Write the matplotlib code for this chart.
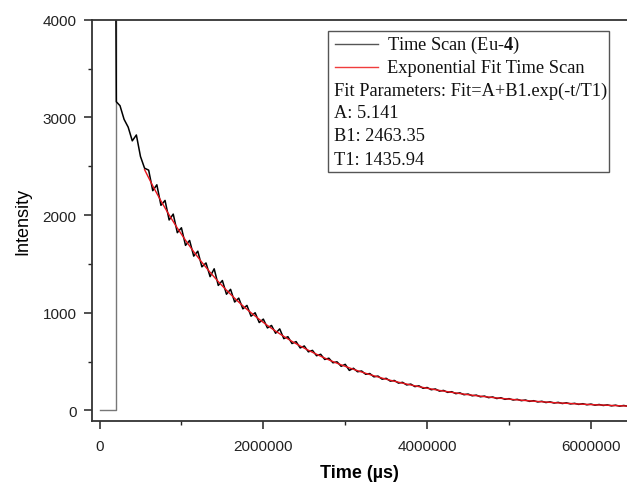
import matplotlib
matplotlib.use("Agg")
import matplotlib.pyplot as plt
from matplotlib.patches import Rectangle
from matplotlib.ticker import MultipleLocator

plt.rcParams['mathtext.fontset'] = 'custom'
plt.rcParams['mathtext.rm'] = 'Liberation Serif'
plt.rcParams['mathtext.bf'] = 'Liberation Serif:bold'

# time scan (us) and intensity
scan_t = [0, 198000, 198000, 205000,
          250000, 300000, 350000, 400000, 450000, 500000, 550000, 600000,
          650000, 700000, 750000, 800000, 850000, 900000, 950000, 1000000,
          1050000, 1100000, 1150000, 1200000, 1250000, 1300000, 1350000, 1400000,
          1450000, 1500000, 1550000, 1600000, 1650000, 1700000, 1750000, 1800000,
          1850000, 1900000, 1950000, 2000000, 2050000, 2100000, 2150000, 2200000,
          2250000, 2300000, 2350000, 2400000, 2450000, 2500000, 2550000, 2600000,
          2650000, 2700000, 2750000, 2800000, 2850000, 2900000, 2950000, 3000000,
          3050000, 3100000, 3150000, 3200000, 3250000, 3300000, 3350000, 3400000,
          3450000, 3500000, 3550000, 3600000, 3650000, 3700000, 3750000, 3800000,
          3850000, 3900000, 3950000, 4000000, 4050000, 4100000, 4150000, 4200000,
          4250000, 4300000, 4350000, 4400000, 4450000, 4500000, 4550000, 4600000,
          4650000, 4700000, 4750000, 4800000, 4850000, 4900000, 4950000, 5000000,
          5050000, 5100000, 5150000, 5200000, 5250000, 5300000, 5350000, 5400000,
          5450000, 5500000, 5550000, 5600000, 5650000, 5700000, 5750000, 5800000,
          5850000, 5900000, 5950000, 6000000, 6050000, 6100000, 6150000, 6200000,
          6250000, 6300000, 6350000, 6400000, 6450000]
scan_i = [0, 0, 4500, 3160,
          3120, 2980, 2900, 2760, 2820, 2600, 2480, 2460,
          2250, 2310, 2100, 2150, 1950, 2010, 1820, 1870,
          1690, 1740, 1580, 1630, 1470, 1510, 1370, 1450,
          1280, 1330, 1190, 1240, 1110, 1150, 1040, 1075,
          965, 1000, 900, 935, 845, 870, 790, 835,
          735, 755, 685, 705, 640, 660, 600, 615,
          560, 575, 522, 535, 488, 498, 452, 472,
          410, 432, 396, 404, 370, 378, 344, 352,
          320, 329, 300, 307, 280, 288, 261, 270,
          244, 252, 227, 235, 212, 220, 198, 205,
          185, 192, 172, 180, 161, 168, 150, 157,
          140, 147, 131, 138, 122, 130, 114, 121,
          107, 114, 100, 107, 93, 100, 87, 94,
          81, 88, 76, 83, 71, 78, 67, 73,
          62, 69, 58, 65, 54, 61, 51, 57,
          47, 54, 44, 51, 43]

# exponential fit curve
fit_t = [550000, 650000, 750000, 850000, 950000, 1050000, 1150000, 1250000,
         1350000, 1450000, 1550000, 1650000, 1750000, 1850000, 1950000, 2050000,
         2150000, 2250000, 2350000, 2450000, 2550000, 2650000, 2750000, 2850000,
         2950000, 3050000, 3150000, 3250000, 3350000, 3450000, 3550000, 3650000,
         3750000, 3850000, 3950000, 4050000, 4150000, 4250000, 4350000, 4450000,
         4550000, 4650000, 4750000, 4850000, 4950000, 5050000, 5150000, 5250000,
         5350000, 5450000, 5550000, 5650000, 5750000, 5850000, 5950000, 6050000,
         6150000, 6250000, 6350000, 6450000]
fit_i = [2465, 2299, 2145, 2001, 1867, 1742, 1625, 1516,
         1414, 1319, 1231, 1148, 1071, 1000, 933, 870,
         812, 758, 707, 660, 616, 575, 536, 500,
         467, 436, 407, 380, 355, 331, 309, 289,
         270, 252, 235, 220, 205, 192, 179, 167,
         156, 146, 137, 128, 120, 112, 105, 98,
         92, 86, 80, 75, 71, 66, 62, 58,
         55, 51, 48, 45]

x_ticks = [0, 2000000, 4000000, 6000000]
x_labels = ['0', '2000000', '4000000', '6000000']
y_ticks = [0, 1000, 2000, 3000, 4000]

legend_rows = ['Fit Parameters: Fit=A+B1.exp(-t/T1)', 'A: 5.141', 'B1: 2463.35', 'T1: 1435.94']

fig = plt.figure(figsize=(6.27, 4.85), dpi=100)
ax = fig.add_axes([0.1463, 0.1305, 0.8537, 0.8268])

# flat baseline + pulse in grey, decay in black
ax.plot(scan_t[:3], scan_i[:3], color='#777777', lw=1.0)
ax.plot(scan_t[2:], scan_i[2:], color='black', lw=1.1)
ax.plot(fit_t, fit_i, color='#e8141c', lw=1.0)

ax.set_xlim(-95000, 6440000)
ax.set_ylim(-105, 4000)
ax.set_xticks(x_ticks)
ax.set_xticklabels(x_labels)
ax.set_yticks(y_ticks)
ax.xaxis.set_minor_locator(MultipleLocator(1000000))
ax.yaxis.set_minor_locator(MultipleLocator(500))

for s in ['left', 'bottom', 'top']:
    ax.spines[s].set_color('#333333')
    ax.spines[s].set_linewidth(1.3)
ax.spines['right'].set_visible(False)
ax.tick_params(which='major', direction='out', length=6, width=1.1, colors='#222222',
               labelsize=11, pad=5)
ax.tick_params(which='minor', direction='out', length=3, width=1.0, colors='#222222')
ax.tick_params(axis='x', which='major', pad=7)
for lab in ax.get_xticklabels() + ax.get_yticklabels():
    lab.set_family('Liberation Sans')

ax.set_xlabel('Time (µs)', fontsize=13, fontweight='bold', family='Liberation Sans', labelpad=8)
ax.set_ylabel('Intensity', fontsize=13, family='Liberation Sans', labelpad=8)

# legend box drawn by hand
ax.add_patch(Rectangle((0.441, 0.620), 0.525, 0.352, transform=ax.transAxes,
                       facecolor='white', edgecolor='#555555', lw=1.0, zorder=5))
tx = dict(transform=ax.transAxes, family='Liberation Serif', fontsize=13.2,
          va='center', ha='left', zorder=6, color='#111111')
ax.plot([0.454, 0.535], [0.939, 0.939], color='#555555', lw=1.0,
        transform=ax.transAxes, zorder=6)
ax.text(0.551, 0.939, r'Time Scan (Eu-$\mathbf{4}$)', **tx)
ax.plot([0.454, 0.535], [0.882, 0.882], color='#f03c3c', lw=1.0,
        transform=ax.transAxes, zorder=6)
ax.text(0.551, 0.882, 'Exponential Fit Time Scan', **tx)
for k, row in enumerate(legend_rows):
    ax.text(0.452, 0.825 - k * 0.0575, row, **tx)

fig.savefig('out.png', dpi=100)
